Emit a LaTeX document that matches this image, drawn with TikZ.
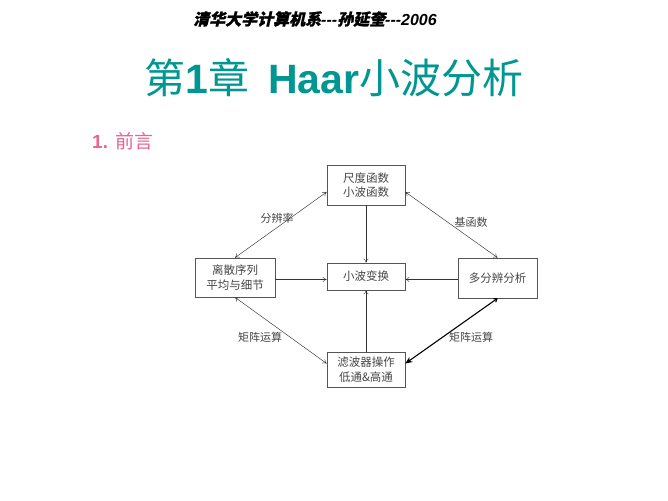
\documentclass[tikz,border=0pt]{standalone}
\usepackage{fontspec}
\setmainfont{Liberation Sans}
\newfontfamily\cjk{Noto Sans CJK SC}
\newfontfamily\cjkhdr[FakeSlant=0.22,FakeBold=1]{Noto Sans CJK SC}
\usetikzlibrary{arrows.meta}
\definecolor{teal1}{RGB}{0,150,145}
\definecolor{pink1}{RGB}{232,100,150}
\definecolor{boxgray}{RGB}{85,85,85}
\definecolor{txtgray}{RGB}{70,70,70}
\begin{document}
\begin{tikzpicture}[x=1pt,y=-1pt,
  box/.style={draw=boxgray,line width=0.7pt,align=center,font=\fontsize{11.5}{14.5}\selectfont\cjk,text=txtgray,inner sep=0pt},
  lab/.style={font=\fontsize{11}{13}\selectfont\cjk,text=txtgray,inner sep=0pt},
  thin/.style={draw=black!80,line width=0.45pt,-{To[length=4pt,width=5pt]}},
  dbl/.style={draw=black!80,line width=0.45pt,{To[length=4pt,width=5pt]}-{To[length=4pt,width=5pt]}},
  thick2/.style={draw=black,line width=1.1pt,{To[length=4pt,width=5pt]}-{Stealth[length=7pt,width=6pt]}}]
\useasboundingbox[fill=white] (0,0) rectangle (668,500);
\node[font=\fontsize{16}{18}\selectfont\bfseries\itshape,inner sep=0pt] (hdr) at (315,19)
  {{\cjkhdr 清华大学计算机系}-{}-{}-{\cjkhdr 孙延奎}-{}-{}-2006};
\node[font=\fontsize{41}{44}\selectfont,text=teal1,inner sep=0pt] (title) at (334,78)
  {{\cjk 第}\textbf{1}{\cjk 章}\hspace{0.45em}\textbf{Haar}{\cjk 小波分析}};
\node[font=\fontsize{19}{21}\selectfont,text=pink1,inner sep=0pt,anchor=west] (sec) at (92,141)
  {\textbf{1.}\hspace{0.4em}{\cjk 前言}};
\node[box,minimum width=78pt,minimum height=40pt] (T) at (366,185) {尺度函数\\小波函数};
\node[box,minimum width=78pt,minimum height=27pt] (C) at (366,276.5) {小波变换};
\node[box,minimum width=80pt,minimum height=39pt] (L) at (235,277.5) {离散序列\\平均与细节};
\node[box,minimum width=79pt,minimum height=40pt] (R) at (497.5,278) {多分辨分析};
\node[box,minimum width=78pt,minimum height=35pt] (B) at (366,369.5) {滤波器操作\\低通\&高通};
\draw[dbl] ([yshift=-7pt]T.west) -- (L.north);
\draw[dbl] ([yshift=-7pt]T.east) -- (R.north);
\draw[thin] (T.south) -- (C.north);
\draw[thin] ([yshift=-3pt]C.west -| L.east) -- ([yshift=-3pt]C.west);
\draw[thin] ([yshift=-3pt]C.east -| R.west) -- ([yshift=-3pt]C.east);
\draw[thin] (B.north) -- (C.south);
\draw[dbl] (L.south) -- ([yshift=6pt]B.west);
\draw[thick2] (R.south) -- ([yshift=6pt]B.east);
\node[lab] (l1) at (277,218) {分辨率};
\node[lab] (l2) at (471,222) {基函数};
\node[lab] (l3) at (260,337) {矩阵运算};
\node[lab] (l4) at (471,337) {矩阵运算};
\end{tikzpicture}
\end{document}
